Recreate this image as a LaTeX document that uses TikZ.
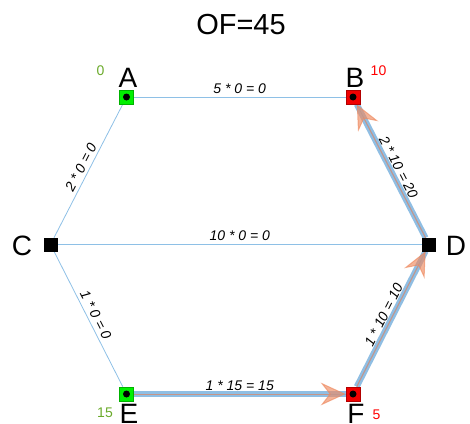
\documentclass[tikz,border=0pt]{standalone}
\usepackage{fontspec}
\setmainfont{Liberation Sans}
\usetikzlibrary{arrows.meta}
\definecolor{edgeblue}{HTML}{8EC0E6}
\definecolor{flowblue}{HTML}{6AA8DA}
\definecolor{floworange}{HTML}{EE8A60}
\definecolor{numgreen}{HTML}{6AAA2A}
\definecolor{boxgreen}{HTML}{00F000}
\definecolor{boxred}{HTML}{F00000}
\begin{document}
\begin{tikzpicture}[x=1pt,y=-1pt,
  dotted vtx/.style={draw, minimum size=14pt, inner sep=0pt, line width=0.8pt,
    path picture={\fill[black] (path picture bounding box.center) circle (3.5pt);}},
  srcvtx/.style={dotted vtx, fill=boxgreen, draw=green!70!black},
  snkvtx/.style={dotted vtx, fill=boxred, draw=red!70!black},
  midvtx/.style={draw=black, fill=black, minimum size=13pt, inner sep=0pt},
  letter/.style={font=\fontsize{28}{28}\selectfont, inner sep=0pt, anchor=base},
  num/.style={font=\fontsize{14}{14}\selectfont, inner sep=0pt},
  edge/.style={draw=edgeblue, line width=0.8pt},
  elbl/.style={font=\itshape\fontsize{14}{14}\selectfont, inner sep=3pt, sloped, above, midway, text=black},
  flowline/.style={draw=flowblue, line width=6pt, opacity=0.75},
  flowarrow/.style={draw=floworange, fill=floworange, line width=1pt, opacity=0.65,
    -{Stealth[length=25pt, width=23pt, inset=9pt]}}
]
\useasboundingbox (0,0) rectangle (470,423);

\node[font=\fontsize{29}{29}\selectfont, inner sep=0pt] (title) at (241,25) {OF=45};

% vertices
\node[srcvtx] (A) at (126.5,97) {};
\node[snkvtx] (B) at (353,97) {};
\node[midvtx] (C) at (50.5,244.5) {};
\node[midvtx] (D) at (429,244.5) {};
\node[srcvtx] (E) at (126.5,394) {};
\node[snkvtx] (F) at (353,394) {};

% edges
\path[edge] (A) -- node[elbl] {5 * 0 = 0} (B);
\path[edge] (C) -- node[elbl] {2 * 0 = 0} (A);
\path[edge] (C) -- node[elbl] {10 * 0 = 0} (D);
\path[edge] (C) -- node[elbl] {1 * 0 = 0} (E);
\path[edge] (B) -- node[elbl] {2 * 10 = 20} (D);
\path[edge] (F) -- node[elbl] {1 * 10 = 10} (D);
\path[edge] (E) -- node[elbl] {1 * 15 = 15} (F);

% flows
\draw[flowline] (E) -- (F);
\draw[flowline] (F) -- (D);
\draw[flowline] (D) -- (B);
\draw[flowarrow] (E) -- (F);
\draw[flowarrow] (F) -- (D);
\draw[flowarrow] (D) -- (B);

% redraw vertices on top
\node[srcvtx] at (A) {};
\node[snkvtx] at (B) {};
\node[midvtx] at (C) {};
\node[midvtx] at (D) {};
\node[srcvtx] at (E) {};
\node[snkvtx] at (F) {};

% letters
\node[letter] (lA) at (128,87) {A};
\node[letter] (lB) at (355,87) {B};
\node[letter] (lC) at (22,255) {C};
\node[letter] (lD) at (456,255) {D};
\node[letter] (lE) at (129,423) {E};
\node[letter] (lF) at (356,423) {F};

% numbers
\node[num, text=numgreen] (nA) at (100.5,71) {0};
\node[num, text=red] (nB) at (378.5,71) {10};
\node[num, text=numgreen] (nE) at (105,413) {15};
\node[num, text=red] (nF) at (376.5,414.5) {5};
\end{tikzpicture}
\end{document}
